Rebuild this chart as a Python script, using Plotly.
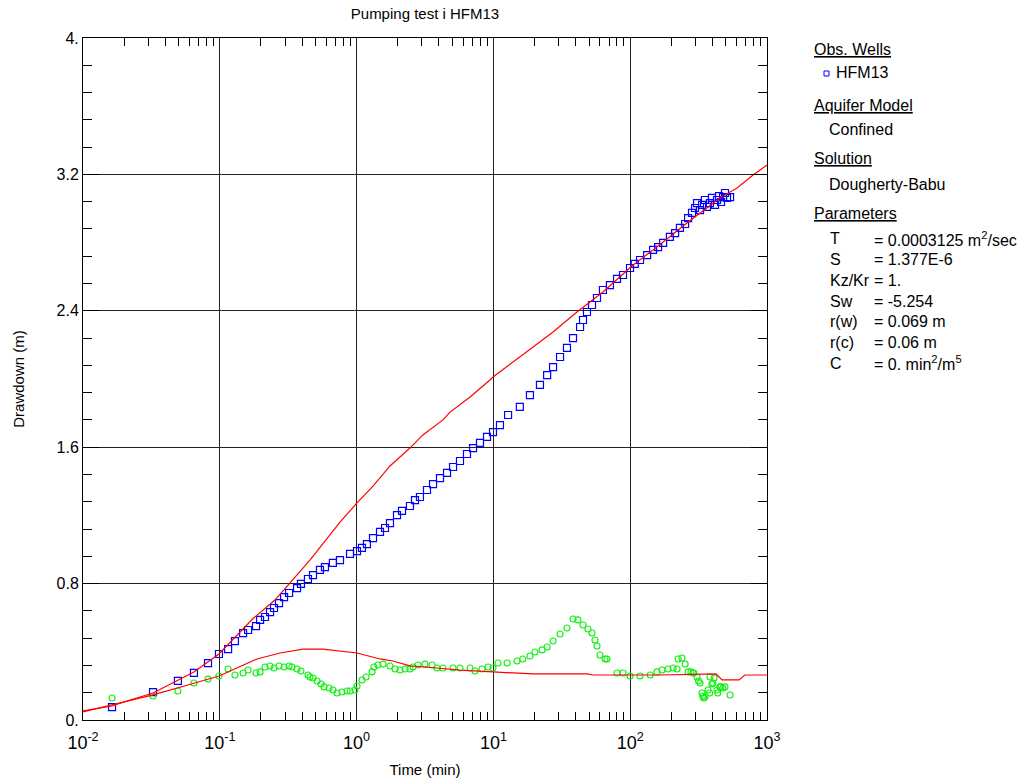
import plotly.graph_objects as go

# Observed drawdown at HFM13 (time in minutes, drawdown in metres)
obs_time = [0.0163, 0.0325, 0.0494, 0.0647, 0.082, 0.0986, 0.115, 0.129, 0.148, 0.161,
            0.184, 0.197, 0.214, 0.233, 0.249, 0.271, 0.295, 0.321, 0.367, 0.392,
            0.441, 0.480, 0.540, 0.587, 0.671, 0.756, 0.895, 1.007, 1.094, 1.19,
            1.318, 1.483, 1.614, 1.754, 1.974, 2.148, 2.455, 2.673, 2.905, 3.27,
            3.62, 4.07, 4.58, 5.07, 5.70, 6.41, 7.10, 7.98, 8.98, 9.93,
            11.17, 12.8, 15.6, 18.5, 21.9, 24.7, 27.3, 30.7, 34.5, 38.2,
            43.0, 45.2, 48.3, 52.6, 57.2, 63.2, 71.1, 80.1, 88.6, 99.7,
            108, 118, 133, 147, 160, 174, 195, 213, 231, 252,
            265, 283, 298, 308, 324, 335, 352, 364, 383, 396,
            417, 431, 446, 461, 477, 493, 510, 537]
obs_drawdown = [0.076, 0.164, 0.229, 0.276, 0.334, 0.387, 0.416, 0.463, 0.510, 0.528,
                0.551, 0.587, 0.604, 0.633, 0.657, 0.686, 0.721, 0.745, 0.774, 0.798,
                0.827, 0.850, 0.880, 0.897, 0.921, 0.938, 0.974, 0.991, 1.009, 1.032,
                1.067, 1.103, 1.126, 1.155, 1.202, 1.226, 1.255, 1.290, 1.308, 1.349,
                1.384, 1.419, 1.449, 1.484, 1.519, 1.560, 1.595, 1.625, 1.660, 1.689,
                1.730, 1.789, 1.836, 1.906, 1.965, 2.023, 2.070, 2.129, 2.182, 2.240,
                2.305, 2.346, 2.393, 2.434, 2.475, 2.522, 2.551, 2.587, 2.610, 2.651,
                2.675, 2.698, 2.727, 2.757, 2.774, 2.798, 2.833, 2.856, 2.886, 2.909,
                2.944, 2.974, 3.003, 3.032, 2.991, 3.021, 3.050, 3.009, 3.032, 3.062,
                3.021, 3.050, 3.073, 3.038, 3.067, 3.091, 3.062, 3.067]

# Derivative of the observed drawdown
deriv_time = [0.0163, 0.0325, 0.0494, 0.0647, 0.082, 0.0986, 0.115, 0.129, 0.148, 0.161,
              0.184, 0.197, 0.214, 0.233, 0.249, 0.271, 0.295, 0.321, 0.337, 0.367,
              0.392, 0.441, 0.456, 0.480, 0.514, 0.550, 0.578, 0.629, 0.671, 0.719,
              0.782, 0.851, 0.895, 0.973, 1.007, 1.094, 1.173, 1.297, 1.34, 1.432,
              1.559, 1.754, 1.91, 2.076, 2.26, 2.455, 2.58, 2.81, 3.16, 3.56,
              3.87, 4.28, 5.07, 5.70, 6.75, 7.33, 8.25, 9.14, 9.93, 10.8,
              12.6, 14.9, 16.4, 18.5, 20.1, 22.7, 24.7, 27.3, 30.7, 34.5,
              38.2, 41.5, 45.2, 49.1, 52.6, 55.3, 57.2, 60.1, 65.5, 67.6,
              80.1, 88.6, 99.7, 118, 140, 157, 171, 189, 206, 220,
              224, 239, 252, 265, 288, 308, 324, 335, 352, 371,
              383, 403, 431, 453, 493, 537, 278, 292, 316, 344,
              339, 381, 395, 410, 437, 460, 476]
deriv_value = [0.129, 0.141, 0.170, 0.217, 0.240, 0.258, 0.299, 0.264, 0.276, 0.293,
               0.276, 0.282, 0.311, 0.317, 0.305, 0.317, 0.311, 0.317, 0.311, 0.299,
               0.287, 0.264, 0.252, 0.246, 0.229, 0.211, 0.194, 0.188, 0.176, 0.158,
               0.164, 0.170, 0.170, 0.176, 0.199, 0.235, 0.252, 0.282, 0.311, 0.323,
               0.328, 0.317, 0.299, 0.293, 0.299, 0.299, 0.311, 0.323, 0.328, 0.323,
               0.305, 0.305, 0.305, 0.305, 0.305, 0.287, 0.299, 0.311, 0.305, 0.334,
               0.334, 0.346, 0.358, 0.375, 0.399, 0.411, 0.428, 0.463, 0.504, 0.540,
               0.592, 0.587, 0.557, 0.534, 0.510, 0.469, 0.434, 0.381, 0.358, 0.358,
               0.276, 0.276, 0.258, 0.258, 0.264, 0.282, 0.293, 0.299, 0.305, 0.299,
               0.358, 0.364, 0.328, 0.282, 0.276, 0.252, 0.217, 0.158, 0.135, 0.176,
               0.252, 0.217, 0.176, 0.194, 0.194, 0.147, 0.282, 0.276, 0.229, 0.129,
               0.141, 0.158, 0.211, 0.246, 0.158, 0.194, 0.188]

# Dougherty-Babu type curve
model_time = [0.0100, 0.0163, 0.0221, 0.0325, 0.0647, 0.0986, 0.175, 0.254, 0.456, 0.639,
              0.756, 1.007, 1.318, 1.754, 2.455, 3.05, 4.28, 4.82, 6.75, 9.44,
              9.93, 19.5, 27.3, 40.8, 63.2, 105, 147, 260, 453, 537,
              604, 791, 1000]
model_drawdown = [0.053, 0.082, 0.117, 0.158, 0.282, 0.387, 0.595, 0.705, 0.938, 1.085,
                  1.161, 1.273, 1.372, 1.490, 1.595, 1.672, 1.760, 1.806, 1.894, 1.994,
                  2.012, 2.188, 2.276, 2.393, 2.510, 2.669, 2.757, 2.915, 3.062, 3.097,
                  3.120, 3.196, 3.255]

# Type curve derivative
model_deriv_time = [0.0100, 0.0325, 0.0657, 0.0986, 0.187, 0.276, 0.406, 0.568, 1.007, 1.483,
                    1.845, 2.455, 3.87, 5.70, 9.93, 16.4, 19.5, 48.3, 53.5, 165,
                    288, 424, 469, 624, 690, 1000]
model_deriv = [0.047, 0.147, 0.217, 0.258, 0.358, 0.393, 0.416, 0.416, 0.393, 0.358,
               0.346, 0.317, 0.305, 0.293, 0.282, 0.276, 0.270, 0.270, 0.264, 0.264,
               0.270, 0.270, 0.235, 0.235, 0.264, 0.264]

x_tick_vals = [0.01, 0.1, 1, 10, 100, 1000]
x_tick_text = ["10<sup>-2</sup>", "10<sup>-1</sup>", "10<sup>0</sup>",
               "10<sup>1</sup>", "10<sup>2</sup>", "10<sup>3</sup>"]
y_tick_vals = [0, 0.8, 1.6, 2.4, 3.2, 4.0]
y_tick_text = ["0.", "0.8", "1.6", "2.4", "3.2", "4."]

FONT = "Liberation Sans, Arial, sans-serif"

fig = go.Figure()

fig.add_trace(go.Scatter(
    x=obs_time, y=obs_drawdown, mode="markers", name="HFM13",
    marker=dict(symbol="square-open", size=7, color="#0000ff", line=dict(width=1.2)),
))
fig.add_trace(go.Scatter(
    x=deriv_time, y=deriv_value, mode="markers", name="Derivative",
    marker=dict(symbol="circle-open", size=6, color="#11f011", line=dict(width=1.1)),
))
fig.add_trace(go.Scatter(
    x=model_time, y=model_drawdown, mode="lines", name="Type curve",
    line=dict(color="#ff0000", width=1.2),
))
fig.add_trace(go.Scatter(
    x=model_deriv_time, y=model_deriv, mode="lines", name="Type curve derivative",
    line=dict(color="#ff0000", width=1.2),
))

minor_x = [k * 10.0 ** e for e in range(-2, 3) for k in range(2, 10)]

fig.update_xaxes(
    type="log", range=[-2, 3], automargin=False,
    tickmode="array", tickvals=x_tick_vals, ticktext=x_tick_text,
    ticks="inside", ticklen=0, ticklabelstandoff=6,
    tickfont=dict(family=FONT, size=18, color="black"),
    showgrid=True, gridcolor="#222222", gridwidth=1,
    showline=True, linecolor="black", linewidth=1, mirror="ticks",
    minor=dict(tickmode="array", tickvals=minor_x, ticks="inside", ticklen=8,
               tickcolor="black", showgrid=False),
    zeroline=False,
    title=dict(text="Time (min)", font=dict(family=FONT, size=15, color="black"), standoff=12),
)
fig.update_yaxes(
    range=[0, 4.0], automargin=False,
    tickmode="array", tickvals=y_tick_vals, ticktext=y_tick_text,
    ticks="inside", ticklen=16, tickcolor="black",
    tickfont=dict(family=FONT, size=16, color="black"),
    showgrid=True, gridcolor="#222222", gridwidth=1,
    showline=True, linecolor="black", linewidth=1, mirror="ticks",
    minor=dict(dtick=0.16, tick0=0, ticks="inside", ticklen=9,
               tickcolor="black", showgrid=False),
    zeroline=False,
    title=dict(text="Drawdown (m)", font=dict(family=FONT, size=15, color="black"), standoff=28),
)

# Side panel describing the well, model and fitted parameters
L, T, W, H = 83, 38, 684, 682


def px(x):
    return (x - L) / W


def py(y):
    return (T + H - y) / H


panel = [
    (812, 50, "<u>Obs. Wells</u>"),
    (834, 73, "HFM13"),
    (812, 105, "<u>Aquifer Model</u>"),
    (827, 129, "Confined"),
    (812, 159, "<u>Solution</u>"),
    (827, 184, "Dougherty-Babu"),
    (812, 213, "<u>Parameters</u>"),
]
params = [
    ("T", "= 0.0003125 m<sup>2</sup>/sec"),
    ("S", "= 1.377E-6"),
    ("Kz/Kr", "= 1."),
    ("Sw", "= -5.254"),
    ("r(w)", "= 0.069 m"),
    ("r(c)", "= 0.06 m"),
    ("C", "= 0. min<sup>2</sup>/m<sup>5</sup>"),
]
annotations = []
for x, y, text in panel:
    annotations.append(dict(x=px(x), y=py(y), xref="paper", yref="paper", text=text,
                            showarrow=False, xanchor="left", yanchor="middle",
                            font=dict(family=FONT, size=16, color="black")))
for i, (name, val) in enumerate(params):
    y = 239 + i * 20.7
    annotations.append(dict(x=px(828), y=py(y), xref="paper", yref="paper", text=name,
                            showarrow=False, xanchor="left", yanchor="middle",
                            font=dict(family=FONT, size=16, color="black")))
    annotations.append(dict(x=px(872), y=py(y), xref="paper", yref="paper", text=val,
                            showarrow=False, xanchor="left", yanchor="middle",
                            font=dict(family=FONT, size=16, color="black")))

fig.add_shape(type="rect", xref="paper", yref="paper",
              x0=px(824), x1=px(829), y0=py(71), y1=py(76),
              line=dict(color="#0000ff", width=1))

fig.update_layout(
    width=1031, height=781,
    margin=dict(l=L, r=1031 - L - W, t=T, b=781 - T - H),
    paper_bgcolor="white", plot_bgcolor="white",
    showlegend=False,
    annotations=annotations,
    title=dict(text="Pumping test i HFM13", x=0.4122, xanchor="center", y=0.983,
               yanchor="middle", font=dict(family=FONT, size=15, color="black")),
)

fig.write_html("out.html")
